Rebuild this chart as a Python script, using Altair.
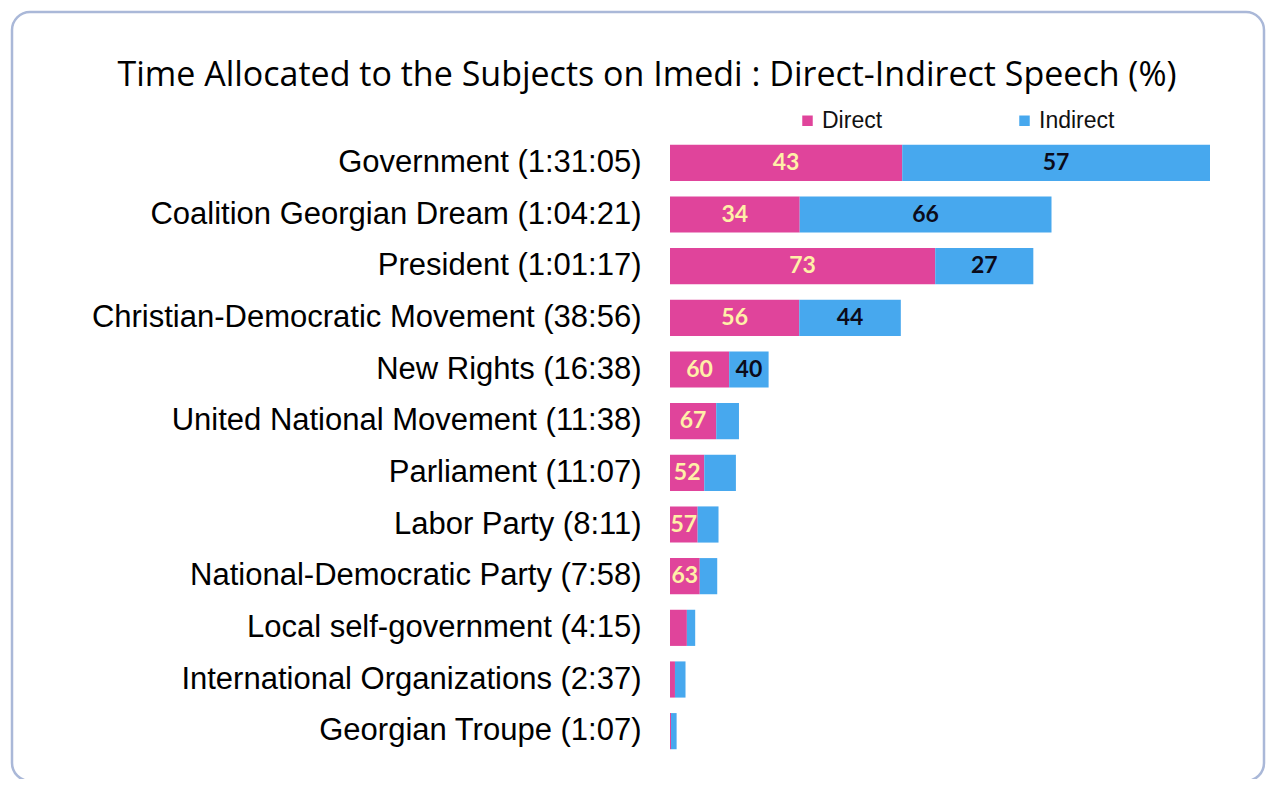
import altair as alt
import pandas as pd

subjects = [
    "Government", "Coalition Georgian Dream", "President",
    "Christian-Democratic Movement", "New Rights", "United National Movement",
    "Parliament", "Labor Party", "National-Democratic Party",
    "Local self-government", "International Organizations", "Georgian Troupe",
]
durations = ["1:31:05", "1:04:21", "1:01:17", "38:56", "16:38", "11:38",
             "11:07", "8:11", "7:58", "4:15", "2:37", "1:07"]
direct_pct = [43, 34, 73, 56, 60, 67, 52, 57, 63, 67, 32, 15]
indirect_pct = [57, 66, 27, 44, 40, 33, 48, 43, 37, 33, 68, 85]
direct_shown = [True] * 9 + [False] * 3
indirect_shown = [True] * 5 + [False] * 7

PINK = "#E0449B"
BLUE = "#47A8EE"


def to_sec(s):
    t = 0
    for p in s.split(":"):
        t = t * 60 + int(p)
    return t


rows = []
for s, d, dp, ip, ds, is_ in zip(subjects, durations, direct_pct, indirect_pct,
                                 direct_shown, indirect_shown):
    sec = to_sec(d)
    label = f"{s} ({d})"
    cut = sec * dp / 100
    rows.append(dict(label=label, type="Direct", start=0, end=cut, pct=dp,
                     mid=cut / 2, shown=ds))
    rows.append(dict(label=label, type="Indirect", start=cut, end=sec, pct=ip,
                     mid=(cut + sec) / 2, shown=is_))
df = pd.DataFrame(rows)
order = [f"{s} ({d})" for s, d in zip(subjects, durations)]
xmax = max(to_sec(d) for d in durations)

yenc = alt.Y("label:N", sort=order, title=None,
             scale=alt.Scale(paddingInner=0.3, paddingOuter=0.15),
             axis=alt.Axis(labelFont="Liberation Sans", labelFontSize=31,
                           labelColor="#000000", ticks=False, tickSize=0,
                           domain=False, labelPadding=29, labelLimit=700,
                           zindex=2))
xscale = alt.Scale(domain=[0, xmax], nice=False)

base = alt.Chart(df)

bars = base.mark_bar().encode(
    y=yenc,
    x=alt.X("start:Q", scale=xscale, axis=None),
    x2="end:Q",
    color=alt.Color("type:N",
                    scale=alt.Scale(domain=["Direct", "Indirect"], range=[PINK, BLUE]),
                    legend=alt.Legend(title=None, orient="none", legendX=126, legendY=-28,
                                      direction="horizontal", symbolType="square",
                                      symbolSize=110, symbolStrokeWidth=0,
                                      labelFont="Liberation Sans", labelFontSize=23,
                                      labelColor="#111111", columnPadding=130,
                                      labelOffset=3, zindex=2)),
)

direct_text = base.transform_filter(
    (alt.datum.type == "Direct") & alt.datum.shown
).mark_text(font="Lato", fontWeight="bold", fontSize=23, color="#FFF0A8",
            align="center", baseline="middle").encode(
    y=alt.Y("label:N", sort=order),
    x=alt.X("mid:Q", scale=xscale),
    text=alt.Text("pct:N"),
)

indirect_text = base.transform_filter(
    (alt.datum.type == "Indirect") & alt.datum.shown
).mark_text(font="Lato", fontWeight="bold", fontSize=23, color="#0B0B1A",
            align="center", baseline="middle").encode(
    y=alt.Y("label:N", sort=order),
    x=alt.X("mid:Q", scale=xscale),
    text=alt.Text("pct:N"),
)

frame = alt.Chart(pd.DataFrame({"f": [0]})).mark_rect(
    fill="white", stroke="#AAB8D8", strokeWidth=2.5, cornerRadius=18, clip=False
).encode(x=alt.value(-658), x2=alt.value(594), y=alt.value(-125), y2=alt.value(644))

chart = alt.layer(frame, bars, direct_text, indirect_text).properties(
    width=540, height=620,
    title=alt.TitleParams(
        "Time Allocated to the Subjects on Imedi : Direct-Indirect Speech (%)",
        font="Open Sans", fontSize=34, fontWeight="normal", color="#000000",
        anchor="middle", dx=-293, offset=-82, zindex=2),
    autosize=alt.AutoSizeParams(type="none"),
    padding={"left": 662, "top": 129, "right": 56, "bottom": 22},
).configure_view(stroke=None).configure(background="white")

chart.save("out.html", embed_options={"renderer": "svg", "actions": False})
